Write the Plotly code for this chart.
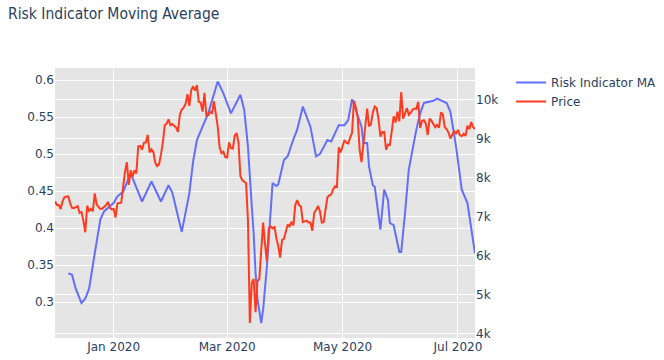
import pandas as pd
import plotly.graph_objects as go
from plotly.subplots import make_subplots

# Price (daily), 2019-12-01 .. 2020-07-10
price_start = "2019-12-01"
price_values = [
    # Dec 2019
    7400, 7300, 7300, 7200, 7400, 7500, 7520, 7520, 7350, 7230,
    7220, 7240, 7270, 7100, 7120, 6900, 6600, 7280, 7150, 7200,
    7140, 7600, 7320, 7250, 7200, 7210, 7250, 7300, 7380, 7230, 7190,
    # Jan 2020
    7200, 6980, 7340, 7350, 7360, 7760, 8160, 8400, 7820, 8190,
    8030, 8190, 8110, 8810, 8820, 8720, 8900, 8910, 9100, 8650,
    8730, 8660, 8390, 8300, 8340, 8600, 8900, 9350, 9390, 9500, 9350,
    # Feb 2020
    9380, 9340, 9290, 9180, 9620, 9750, 9800, 9900, 10150, 9850,
    10250, 10350, 10240, 10380, 9950, 9930, 9700, 10180, 9600, 9610,
    9690, 9660, 9960, 9650, 9320, 8790, 8630, 8670, 8530,
    # Mar 2020
    8520, 8910, 8760, 8750, 9080, 9150, 8900, 8040, 7940, 7900,
    7860, 6900, 4270, 5300, 5400, 4550, 5350, 5400, 6200, 6850,
    6300, 5850, 6700, 6750, 6700, 6750, 6450, 6250, 5950, 6400, 6430,
    # Apr 2020
    6650, 6800, 6750, 6870, 6780, 7300, 7430, 7300, 7260, 6860,
    6880, 6900, 6850, 6850, 6640, 7100, 7170, 7280, 7150, 6850,
    6860, 7130, 7500, 7550, 7570, 7700, 7780, 7760, 8780, 8650,
    # May 2020
    8830, 8970, 8900, 8880, 9030, 9150, 9980, 9810, 9550, 8730,
    8400, 8810, 9300, 9780, 9320, 9380, 9680, 9830, 9790, 9510,
    9060, 9170, 9180, 8720, 8850, 8840, 9200, 9580, 9420, 9700, 9450,
    # Jun 2020
    10200, 9520, 9660, 9790, 9620, 9670, 9750, 9780, 9770, 9950,
    9280, 9460, 9480, 9390, 9100, 9520, 9460, 9380, 9300, 9360,
    9290, 9680, 9630, 9300, 9250, 9160, 9010, 9110, 9190, 9140,
    # Jul 2020
    9230, 9090, 9070, 9130, 9080, 9340, 9250, 9430, 9300, 9250,
]
price_dates = pd.date_range(price_start, periods=len(price_values), freq="D")

# Risk Indicator moving average
risk_dates = [
    "2019-12-08", "2019-12-10", "2019-12-12", "2019-12-15", "2019-12-17",
    "2019-12-19", "2019-12-22", "2019-12-25", "2019-12-27", "2019-12-30",
    "2020-01-01", "2020-01-03", "2020-01-06", "2020-01-10", "2020-01-13",
    "2020-01-16", "2020-01-21", "2020-01-26", "2020-01-30", "2020-02-01",
    "2020-02-06", "2020-02-10", "2020-02-12", "2020-02-14", "2020-02-17",
    "2020-02-20", "2020-02-25", "2020-02-28", "2020-03-03", "2020-03-08",
    "2020-03-10", "2020-03-12", "2020-03-14", "2020-03-15", "2020-03-16",
    "2020-03-17", "2020-03-19", "2020-03-20", "2020-03-22", "2020-03-24",
    "2020-03-25", "2020-03-27", "2020-03-28", "2020-03-31", "2020-04-02",
    "2020-04-05", "2020-04-07", "2020-04-10", "2020-04-14", "2020-04-17",
    "2020-04-19", "2020-04-23", "2020-04-25", "2020-04-29", "2020-05-02",
    "2020-05-04", "2020-05-06", "2020-05-08", "2020-05-11", "2020-05-12",
    "2020-05-14", "2020-05-15", "2020-05-17", "2020-05-18", "2020-05-21",
    "2020-05-23", "2020-05-25", "2020-05-26", "2020-05-28", "2020-05-31",
    "2020-06-01", "2020-06-03", "2020-06-05", "2020-06-09", "2020-06-11",
    "2020-06-13", "2020-06-16", "2020-06-18", "2020-06-20", "2020-06-23",
    "2020-06-25", "2020-06-27", "2020-06-30", "2020-07-03", "2020-07-06",
    "2020-07-10",
]
risk_values = [
    0.339, 0.337, 0.318, 0.299, 0.305,
    0.318, 0.366, 0.412, 0.423, 0.430,
    0.434, 0.443, 0.449, 0.474, 0.455,
    0.436, 0.463, 0.436, 0.458, 0.448,
    0.395, 0.447, 0.490, 0.519, 0.537,
    0.555, 0.598, 0.582, 0.555, 0.580,
    0.560, 0.510, 0.430, 0.393, 0.340,
    0.305, 0.272, 0.290, 0.348, 0.420,
    0.461, 0.457, 0.459, 0.492, 0.497,
    0.520, 0.533, 0.564, 0.537, 0.497,
    0.500, 0.519, 0.517, 0.539, 0.539,
    0.546, 0.574, 0.560, 0.537, 0.515,
    0.515, 0.483, 0.458, 0.456, 0.398,
    0.452, 0.438, 0.407, 0.404, 0.368,
    0.368, 0.420, 0.479, 0.533, 0.555,
    0.569, 0.571, 0.572, 0.575, 0.571,
    0.569, 0.557, 0.510, 0.452, 0.434,
    0.366,
]

fig = make_subplots(specs=[[{"secondary_y": True}]])
fig.add_trace(
    go.Scatter(x=pd.to_datetime(risk_dates), y=risk_values, mode="lines",
               name="Risk Indicator MA", line=dict(color="#636efa", width=2)),
    secondary_y=False,
)
fig.add_trace(
    go.Scatter(x=price_dates, y=price_values, mode="lines",
               name="Price", line=dict(color="#ff3a1e", width=2)),
    secondary_y=True,
)

fig.update_layout(
    template="plotly",
    width=664, height=360,
    font=dict(family="DejaVu Sans, Verdana, sans-serif", size=12, color="#2a3f5f"),
    margin=dict(l=55, r=189, t=68, b=22, autoexpand=False),
    title=dict(text="Risk Indicator Moving Average", x=8 / 664, xanchor="left",
               y=1 - 14 / 360, yanchor="middle",
               font=dict(size=15.5, family="DejaVu Sans Condensed, Liberation Sans, sans-serif")),
    plot_bgcolor="#e5e5e5",
    legend=dict(x=1.086, y=1, xanchor="left", yanchor="top"),
    showlegend=True,
)
fig.update_xaxes(domain=[0, 1], range=["2019-12-01", "2020-07-10"], gridcolor="white",
                 dtick="M2", tickformat="%b %Y")
fig.update_yaxes(range=[0.2518, 0.6162], gridcolor="white", secondary_y=False,
                 dtick=0.05)
fig.update_yaxes(range=[3885, 10820], gridcolor="white", secondary_y=True,
                 dtick=1000)

fig.write_html(
    "out.html",
    config={"responsive": False, "displayModeBar": False},
    default_width="664px",
    default_height="360px",
    post_script="document.body.style.margin='0';document.body.style.overflow='hidden';",
)
